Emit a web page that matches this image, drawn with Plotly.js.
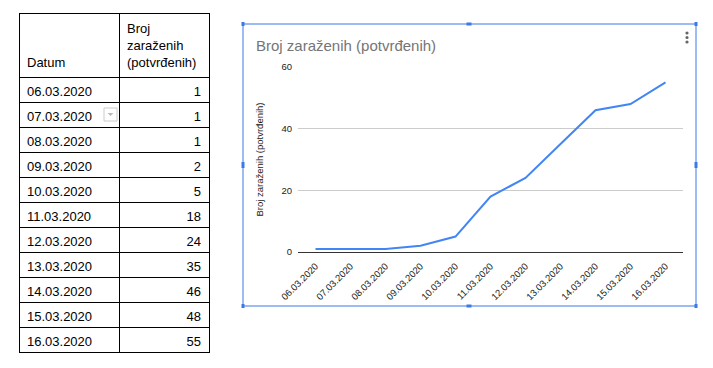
<!DOCTYPE html>
<html><head><meta charset="utf-8">
<script src="https://cdn.plot.ly/plotly-3.0.1.min.js"></script>
<style>html,body{margin:0;padding:0;background:#fff;}</style>
</head><body><div id="chart" style="width:713px;height:368px;"></div>
<script>
const dates = ["06.03.2020","07.03.2020","08.03.2020","09.03.2020","10.03.2020","11.03.2020","12.03.2020","13.03.2020","14.03.2020","15.03.2020","16.03.2020"];
const cases = [1,1,1,2,5,18,24,35,46,48,55];
const headerLabels = ["&nbsp;<br>&nbsp;<br>Datum","Broj<br>zaraženih<br>(potvrđenih)"];
const chartTitle = "Broj zaraženih (potvrđenih)";
const yTitle = "Broj zaraženih (potvrđenih)";
const yTicks = [0,20,40,60];

const W = 713, H = 368;
const px = x => x / W;
const py = y => 1 - y / H;

const table = {
  type: 'table',
  domain: {x: [px(19), px(209)], y: [py(366), py(13)]},
  columnwidth: [100, 90],
  header: {
    values: headerLabels,
    height: 61,
    align: ['left','left'],
    line: {color: '#000', width: 1},
    fill: {color: '#fff'},
    font: {family: 'Liberation Sans, Arial', size: 13, color: '#000'}
  },
  cells: {
    values: [dates, cases],
    height: 25,
    align: ['left','right'],
    line: {color: '#000', width: 1},
    fill: {color: '#fff'},
    font: {family: 'Liberation Sans, Arial', size: 13, color: '#000'}
  }
};

const line = {
  type: 'scatter', mode: 'lines',
  x: dates, y: cases,
  line: {color: '#4285f4', width: 2},
  hoverinfo: 'skip'
};

const blue = '#3c78e8';
function handle(x, y, w, h) {
  return {type: 'rect', xref: 'paper', yref: 'paper', x0: px(x - w/2), x1: px(x + w/2), y0: py(y + h/2), y1: py(y - h/2), fillcolor: blue, line: {width: 0}};
}
function dot(x, y) {
  return {type: 'circle', xref: 'paper', yref: 'paper', x0: px(x-1.6), x1: px(x+1.6), y0: py(y+1.6), y1: py(y-1.6), fillcolor: '#666', line: {width: 0}};
}

const layout = {
  width: W, height: H,
  margin: {l: 0, r: 0, t: 0, b: 0},
  paper_bgcolor: '#fff', plot_bgcolor: '#fff',
  showlegend: false,
  font: {family: 'Liberation Sans, Arial', color: '#222'},
  title: {text: chartTitle, x: px(256), xanchor: 'left', y: py(46), yanchor: 'middle',
          font: {family: 'Liberation Sans, Arial', size: 15, color: '#757575'}},
  xaxis: {
    domain: [px(298), px(683)],
    anchor: 'y',
    type: 'category',
    range: [-0.5, 10.5],
    showgrid: false, zeroline: false, showline: false,
    ticks: '', tickangle: -45, ticklabelstandoff: 6,
    tickfont: {size: 9.5, color: '#222'}
  },
  yaxis: {
    domain: [py(252), py(67)],
    anchor: 'x',
    range: [0, 60],
    tickvals: yTicks,
    showgrid: true, gridcolor: '#cccccc', gridwidth: 1,
    zeroline: true, zerolinecolor: '#333', zerolinewidth: 1,
    showline: false, ticks: '', ticklabelstandoff: 5,
    tickfont: {size: 9.5, color: '#222'},
    title: {text: yTitle, standoff: 16, font: {size: 9.5, color: '#222'}}
  },
  shapes: [
    {type: 'rect', xref: 'paper', yref: 'paper', x0: px(243), x1: px(696), y0: py(306), y1: py(24), line: {color: blue, width: 1}, fillcolor: 'rgba(0,0,0,0)'},
    handle(243,24,3,4), handle(469,24,5,3), handle(696,24,3,4),
    handle(243,165,3,6), handle(696,165,3,6),
    handle(243,306,3,4), handle(469,306,5,3), handle(696,306,3,4),
    dot(687,33), dot(687,37.5), dot(687,42),
    {type: 'rect', xref: 'paper', yref: 'paper', x0: px(104), x1: px(117), y0: py(121), y1: py(108), line: {color: '#ccc', width: 1}, fillcolor: '#fff'},
    {type: 'path', xref: 'paper', yref: 'paper', path: `M ${px(107.5)} ${py(113)} L ${px(113.5)} ${py(113)} L ${px(110.5)} ${py(116)} Z`, fillcolor: '#bbb', line: {width: 0}}
  ]
};

Plotly.newPlot('chart', [table, line], layout, {displayModeBar: false, staticPlot: true});
</script>
</body></html>
